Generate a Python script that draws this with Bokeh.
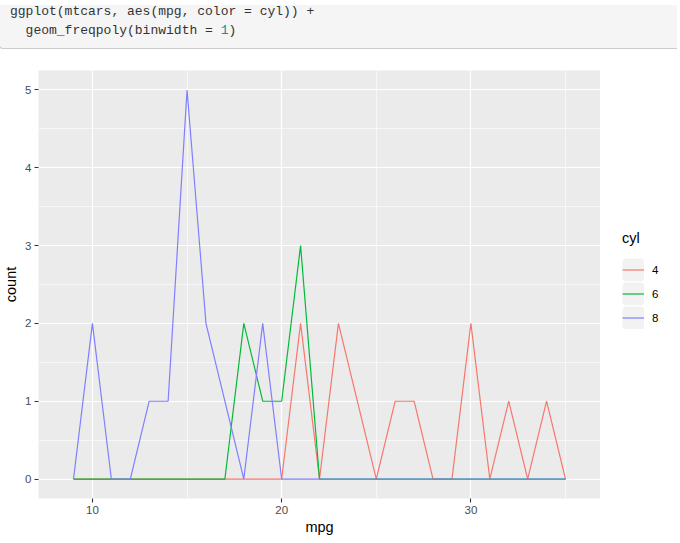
from bokeh.plotting import figure
from bokeh.models import Div, Legend, LegendItem, FixedTicker, Range1d
from bokeh.layouts import column, row
from bokeh.embed import file_html
from bokeh.resources import INLINE

# ---- data (frequency polygon, binwidth = 1, bins centred on integers) ----
mpg = list(range(9, 36))
count_4 = [0, 0, 0, 0, 0, 0, 0, 0, 0, 0, 0, 0,
           2, 0, 2, 1, 0, 1, 1, 0, 0, 2, 0, 1, 0, 1, 0]
count_6 = [0, 0, 0, 0, 0, 0, 0, 0, 0,
           2, 1, 1, 3,
           0, 0, 0, 0, 0, 0, 0, 0, 0, 0, 0, 0, 0, 0]
count_8 = [0, 2, 0, 0, 1, 1, 5, 2, 1, 0, 2,
           0, 0, 0, 0, 0, 0, 0, 0, 0, 0, 0, 0, 0, 0, 0, 0]
cyl_levels = ["4", "6", "8"]
cyl_counts = [count_4, count_6, count_8]
cyl_colors = ["#F8766D", "#00BA38", "#7F7FFF"]

x_ticks = [10, 20, 30]
x_minor = [15, 25, 35]
y_ticks = [0, 1, 2, 3, 4, 5]
y_minor = [0.5, 1.5, 2.5, 3.5, 4.5]

code_line1 = "ggplot(mtcars, aes(mpg, color = cyl)) +"
code_line2 = "  geom_freqpoly(binwidth = "
code_num = "1"
code_end = ")"

FONT = "Liberation Sans"
NAN = float("nan")

# ---- code block ----
code_html = (
    '<div style="position:relative;left:-6px;width:678px;height:44px;box-sizing:border-box;'
    'background:#f5f5f5;border-left:1px solid #cccccc;border-bottom:1px solid #cccccc;'
    'border-bottom-left-radius:4px;overflow:hidden;padding-left:10px;'
    'font-family:\'Liberation Mono\',monospace;font-size:13px;line-height:13px;'
    'color:#333333;white-space:pre;">'
    f'<div style="margin-top:0px;">{code_line1}</div>'
    f'<div style="margin-top:5.5px;">{code_line2}<span style="color:#009999">{code_num}</span>{code_end}</div>'
    '</div>'
)
div = Div(text=code_html, width=664, height=44)

# ---- ranges (ggplot-style 5% expansion) ----
lo, hi = min(mpg) - 0.5, max(mpg) + 0.5
xpad = 0.05 * (hi - lo)
ymax = max(max(c) for c in cyl_counts)
ypad = 0.05 * ymax

p = figure(width=600, height=483, output_backend="svg", toolbar_location=None,
           x_range=Range1d(lo - xpad, hi + xpad), y_range=Range1d(-ypad, ymax + ypad),
           min_border_left=36, min_border_right=0, min_border_top=16, min_border_bottom=38,
           background_fill_color="#EBEBEB", border_fill_color="white",
           outline_line_color=None)

p.xaxis.ticker = FixedTicker(ticks=x_ticks, minor_ticks=x_minor)
p.yaxis.ticker = FixedTicker(ticks=y_ticks, minor_ticks=y_minor)

for g in (p.xgrid, p.ygrid):
    g.grid_line_color = "white"
    g.grid_line_width = 1.2
    g.minor_grid_line_color = "white"
    g.minor_grid_line_width = 0.6

for ax in (p.xaxis, p.yaxis):
    ax.axis_line_color = None
    ax.major_tick_line_color = "#333333"
    ax.major_tick_line_width = 1.1
    ax.major_tick_in = 0
    ax.major_tick_out = 4
    ax.minor_tick_line_color = None
    ax.major_label_text_color = "#4D4D4D"
    ax.major_label_text_font_size = "11.5px"
    ax.major_label_text_font = FONT
    ax.axis_label_text_font = FONT
    ax.axis_label_text_font_size = "14.5px"
    ax.axis_label_text_font_style = "normal"
    ax.axis_label_text_color = "black"

p.xaxis.axis_label = "mpg"
p.xaxis.major_label_standoff = 3
p.xaxis.axis_label_standoff = 2
p.yaxis.axis_label = "count"
p.yaxis.major_label_standoff = 3
p.yaxis.axis_label_standoff = 3

for counts, color in zip(cyl_counts, cyl_colors):
    p.line(mpg, counts, line_color=color, line_width=1.2)

# ---- legend panel (ggplot-style guide to the right of the panel) ----
pl = figure(width=64, height=483, output_backend="svg", toolbar_location=None,
            x_axis_type=None, y_axis_type=None,
            x_range=Range1d(0, 1), y_range=Range1d(0, 1),
            min_border=0, outline_line_color=None,
            background_fill_color="white", border_fill_color="white")
items = []
for lvl, color in zip(cyl_levels, cyl_colors):
    key_bg = pl.rect(x=[NAN], y=[NAN], width=1, height=1, fill_color="#F2F2F2",
                     line_color="#F2F2F2", line_width=4.6)
    key_ln = pl.line(x=[NAN, NAN], y=[NAN, NAN], line_color=color, line_width=1.2)
    items.append(LegendItem(label=lvl, renderers=[key_bg, key_ln]))

legend = Legend(items=items, title="cyl", location=(22, 169),
                glyph_width=22, glyph_height=23, spacing=1,
                label_standoff=8, label_text_font=FONT, label_text_font_size="11.5px",
                label_text_color="black",
                title_text_font=FONT, title_text_font_size="14.5px",
                title_text_font_style="normal", title_text_color="black",
                title_standoff=12, padding=10, margin=0,
                border_line_color=None, background_fill_color="white",
                background_fill_alpha=1.0)
pl.add_layout(legend, "center")

layout = column(div, row(p, pl, spacing=0), spacing=0)
open("out.html", "w").write(file_html(layout, INLINE))
